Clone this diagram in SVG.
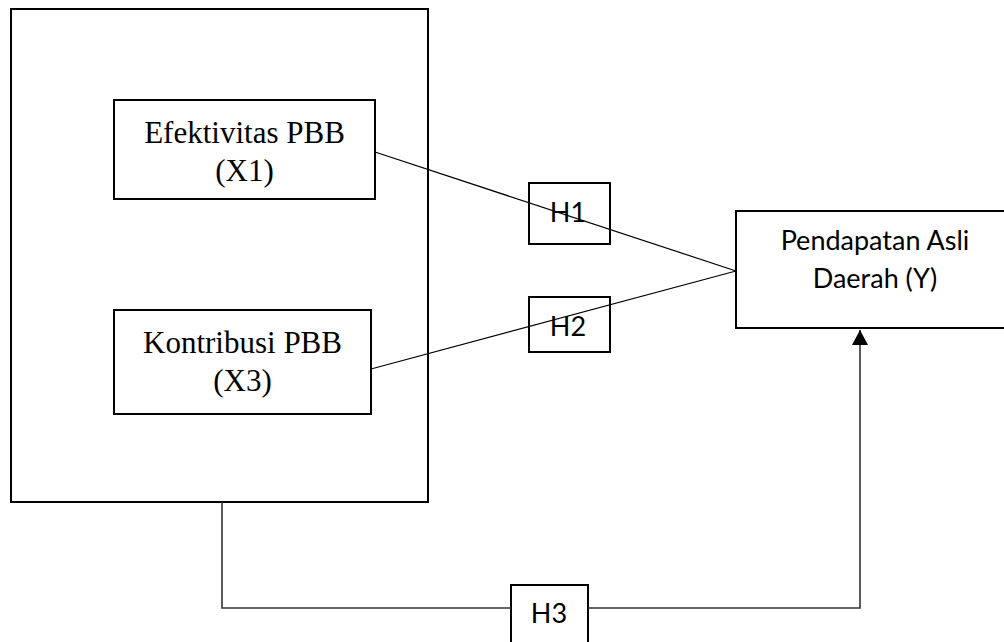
<svg xmlns="http://www.w3.org/2000/svg" width="1004" height="642" viewBox="0 0 1004 642">
<style>
.box{fill:none;stroke:#000;stroke-width:2}
.serif{font-family:"Liberation Serif","Times New Roman",serif;font-size:31px;fill:#000;text-anchor:middle}
.sans{font-family:Lato,"Open Sans",sans-serif;font-size:27px;fill:#000;text-anchor:middle}
.thin{fill:none;stroke:#000;stroke-width:1.2}
.elbow{fill:none;stroke:#333;stroke-width:1.6}
</style>
<defs>
<marker id="arr" markerWidth="16" markerHeight="16" refX="15" refY="8" orient="auto" markerUnits="userSpaceOnUse">
<path d="M0,0 L15,8 L0,16 Z" fill="#000"/>
</marker>
</defs>
<rect width="1004" height="642" fill="#fff"/>
<g id="outer">
<rect class="box" x="11" y="9" width="417" height="493"/>
</g>
<g id="x1">
<rect class="box" x="114" y="100" width="261" height="99"/>
<text class="serif" x="244.5" y="143">Efektivitas PBB</text>
<text class="serif" x="244.5" y="181">(X1)</text>
</g>
<g id="x3">
<rect class="box" x="114" y="310" width="257" height="104"/>
<text class="serif" x="242.5" y="353">Kontribusi PBB</text>
<text class="serif" x="242.5" y="391">(X3)</text>
</g>
<g id="h1">
<rect class="box" x="529" y="183" width="81" height="61"/>
<text class="sans" x="568" y="222">H1</text>
</g>
<g id="h2">
<rect class="box" x="529" y="297" width="81" height="55"/>
<text class="sans" x="568" y="336">H2</text>
</g>
<g id="h3">
<rect class="box" x="511" y="585" width="77" height="60"/>
<text class="sans" x="549" y="623">H3</text>
</g>
<g id="y">
<rect class="box" x="736" y="211" width="280" height="117"/>
<text class="sans" x="875" y="250">Pendapatan Asli</text>
<text class="sans" x="875" y="288">Daerah (Y)</text>
</g>
<g id="connectors">
<line class="thin" x1="375" y1="152" x2="736" y2="271"/>
<line class="thin" x1="371" y1="369" x2="736" y2="271"/>
<polyline class="elbow" points="222,502 222,608 511,608"/>
<polyline class="elbow" points="588,608 860,608 860,330" marker-end="url(#arr)"/>
</g>
</svg>
